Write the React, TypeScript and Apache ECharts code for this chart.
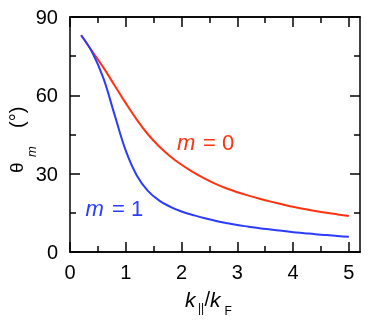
import React, { useEffect, useRef } from "react";
import * as echarts from "echarts";

// k_parallel / k_F sample positions
const kValues = [0.2, 0.4, 0.6, 0.8, 1.0, 1.2, 1.4, 1.6, 1.8, 2.0, 2.2, 2.4, 2.6, 2.8, 3.0, 3.2, 3.4, 3.6, 3.8, 4.0, 4.2, 4.4, 4.6, 4.8, 5.0];
// theta_m (degrees) for m = 0
const thetaM0 = [83, 76.8, 70.6, 63.8, 57, 50.6, 45, 40.4, 36.6, 33.4, 30.7, 28.3, 26.2, 24.4, 22.9, 21.6, 20.4, 19.3, 18.3, 17.3, 16.5, 15.7, 15.0, 14.4, 13.8];
// theta_m (degrees) for m = 1
const thetaM1 = [83, 76.4, 66.5, 52.5, 38.8, 29.2, 23.3, 19.7, 17.3, 15.5, 14.2, 13.0, 12.0, 11.1, 10.3, 9.7, 9.1, 8.6, 8.1, 7.6, 7.2, 6.8, 6.5, 6.1, 5.8];

const xMajorTicks = [0, 1, 2, 3, 4, 5];
const xMinorTicks = [0.5, 1.5, 2.5, 3.5, 4.5];
const xMin = 0;
const xMax = 5.2;
const yMin = 0;
const yMax = 90;
const yInterval = 30;

const RED = "#ff3311";
const BLUE = "#2b3bff";
const FONT = "'Liberation Sans', Arial, Helvetica, sans-serif";

export default function App() {
  const ref = useRef<HTMLDivElement>(null);
  useEffect(() => {
    if (!ref.current) return;
    const chart = echarts.init(ref.current, null, { renderer: "svg" });
    const line = { color: "#000", width: 1.5 };
    const baseX = {
      type: "value" as const,
      min: xMin,
      max: xMax,
      axisLine: { show: true, onZero: false, lineStyle: line },
      splitLine: { show: false },
    };
    const baseY = {
      type: "value" as const,
      min: yMin,
      max: yMax,
      interval: yInterval,
      axisLine: { show: true, onZero: false, lineStyle: line },
      splitLine: { show: false },
      axisTick: { show: true, inside: true, length: 10, lineStyle: line },
      minorTick: { show: true, splitNumber: 2, length: 6, lineStyle: line },
    };
    chart.setOption({
      animation: false,
      grid: { left: 70, right: 14, top: 17, bottom: 71, show: false },
      xAxis: [
        {
          ...baseX,
          position: "bottom",
          axisTick: { show: true, inside: true, length: 10, customValues: xMajorTicks, lineStyle: line },
          axisLabel: { show: true, customValues: xMajorTicks, fontSize: 20, margin: 10, color: "#000", fontFamily: FONT },
        },
        {
          ...baseX,
          position: "bottom",
          axisTick: { show: true, inside: true, length: 6, customValues: xMinorTicks, lineStyle: line },
          axisLabel: { show: false },
        },
        {
          ...baseX,
          position: "top",
          axisTick: { show: true, inside: true, length: 10, customValues: xMajorTicks, lineStyle: line },
          axisLabel: { show: false },
        },
        {
          ...baseX,
          position: "top",
          axisTick: { show: true, inside: true, length: 6, customValues: xMinorTicks, lineStyle: line },
          axisLabel: { show: false },
        },
      ],
      yAxis: [
        {
          ...baseY,
          position: "left",
          axisLabel: { fontSize: 20, margin: 12, color: "#000", fontFamily: FONT },
        },
        {
          ...baseY,
          position: "right",
          axisLabel: { show: false },
        },
      ],
      series: [
        {
          name: "m = 0",
          type: "line",
          xAxisIndex: 0,
          yAxisIndex: 0,
          smooth: 0.4,
          showSymbol: false,
          symbol: "none",
          lineStyle: { color: RED, width: 2 },
          data: kValues.map((k, i) => [k, thetaM0[i]]),
        },
        {
          name: "m = 1",
          type: "line",
          xAxisIndex: 0,
          yAxisIndex: 0,
          smooth: 0.4,
          showSymbol: false,
          symbol: "none",
          lineStyle: { color: BLUE, width: 2 },
          data: kValues.map((k, i) => [k, thetaM1[i]]),
        },
      ],
      graphic: [
        // y-axis title: θ_m (°)
        {
          type: "group",
          x: 16.5,
          y: 173,
          rotation: Math.PI / 2,
          children: [
            { type: "text", x: 0, y: 0, style: { text: "θ", font: `19px ${FONT}`, fill: "#000", align: "left", verticalAlign: "middle" } },
            { type: "text", x: 16, y: 15, style: { text: "m", font: `italic 13px ${FONT}`, fill: "#000", align: "left", verticalAlign: "middle" } },
            { type: "text", x: 45, y: 0, style: { text: "(°)", font: `20px ${FONT}`, fill: "#000", align: "left", verticalAlign: "middle" } },
          ],
        },
        // x-axis title: k_|| / k_F
        { type: "text", x: 185, y: 299, style: { text: "k", font: `italic 21px ${FONT}`, fill: "#000", align: "left", verticalAlign: "middle" } },
        { type: "text", x: 198, y: 308, style: { text: "||", font: `12px ${FONT}`, fill: "#000", align: "left", verticalAlign: "middle" } },
        { type: "text", x: 204.5, y: 299, style: { text: "/", font: `20px ${FONT}`, fill: "#000", align: "left", verticalAlign: "middle" } },
        { type: "text", x: 210, y: 299, style: { text: "k", font: `italic 21px ${FONT}`, fill: "#000", align: "left", verticalAlign: "middle" } },
        { type: "text", x: 224.5, y: 311, style: { text: "F", font: `12px ${FONT}`, fill: "#000", align: "left", verticalAlign: "middle" } },
        // annotations
        { type: "text", x: 177, y: 142, style: { text: "m", font: `italic 22px ${FONT}`, fill: RED, align: "left", verticalAlign: "middle" } },
        { type: "text", x: 203, y: 142, style: { text: "= 0", font: `22px ${FONT}`, fill: RED, align: "left", verticalAlign: "middle" } },
        { type: "text", x: 85.5, y: 208, style: { text: "m", font: `italic 22px ${FONT}`, fill: BLUE, align: "left", verticalAlign: "middle" } },
        { type: "text", x: 112, y: 208, style: { text: "= 1", font: `22px ${FONT}`, fill: BLUE, align: "left", verticalAlign: "middle" } },
      ],
    });
    return () => chart.dispose();
  }, []);
  return <div ref={ref} style={{ position: "fixed", left: 0, top: 0, width: 374, height: 323 }} />;
}
